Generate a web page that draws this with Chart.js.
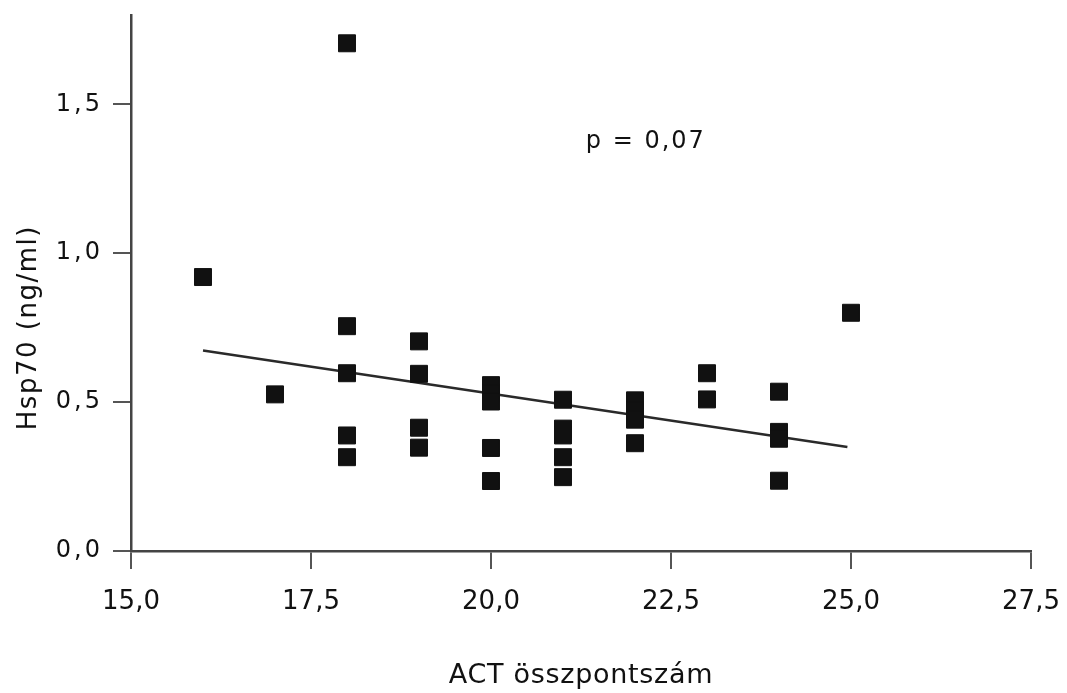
<!DOCTYPE html>
<html>
<head>
<meta charset="utf-8">
<script src="https://cdn.jsdelivr.net/npm/chart.js@4.4.1/dist/chart.umd.min.js"></script>
<style>
  html, body { margin: 0; padding: 0; background: #ffffff; }
  #wrap { width: 1067px; height: 693px; }
</style>
</head>
<body>
<div id="wrap"><canvas id="c" width="1067" height="693"></canvas></div>
<script>
// ---- data ----
const actScore = [16, 17, 18, 18, 18, 18, 18, 19, 19, 19, 19, 20, 20, 20, 20, 20,
                  21, 21, 21, 21, 21, 22, 22, 22, 22, 23, 23, 24, 24, 24, 24, 25];
const hsp70 = [0.92, 0.526, 1.705, 0.755, 0.597, 0.388, 0.315, 0.704, 0.595, 0.414, 0.347,
               0.557, 0.53, 0.502, 0.346, 0.235,
               0.508, 0.411, 0.388, 0.315, 0.248,
               0.506, 0.472, 0.441, 0.362,
               0.597, 0.509,
               0.535, 0.40, 0.377, 0.236,
               0.80];
const trendX = [16, 24.95];
const trendY = [0.673, 0.349];
const xTicks = [15, 17.5, 20, 22.5, 25, 27.5];
const yTicks = [0, 0.5, 1.0, 1.5];
const xTitle = 'ACT összpontszám';
const yTitle = 'Hsp70 (ng/ml)';
const pLabel = 'p = 0,07';
const pLabelPos = [22.15, 1.355];

const FONT = 'DejaVu Sans';
const fmt = v => v.toFixed(1).replace('.', ',');

// wrap a scale's drawing routine with a given canvas letter spacing
function withSpacing(scale, method, ls) {
  const proto = Object.getPrototypeOf(scale);
  scale[method] = function (arg) {
    const c = this.ctx;
    c.save();
    c.letterSpacing = ls;
    proto[method].call(this, arg);
    c.restore();
  };
}

const textPlugin = {
  id: 'texts',
  afterDraw(chart) {
    const ctx = chart.ctx;
    const xs = chart.scales.x, ys = chart.scales.y;
    ctx.save();
    ctx.fillStyle = '#111';
    // annotation
    ctx.letterSpacing = '2px';
    ctx.font = '24px "' + FONT + '"';
    ctx.textAlign = 'center';
    ctx.textBaseline = 'alphabetic';
    ctx.fillText(pLabel, xs.getPixelForValue(pLabelPos[0]), ys.getPixelForValue(pLabelPos[1]));
    // y axis title centred on the tick range
    ctx.letterSpacing = '1.5px';
    ctx.font = '26px "' + FONT + '"';
    const yc = (ys.getPixelForValue(yTicks[0]) + ys.getPixelForValue(yTicks[yTicks.length - 1])) / 2;
    ctx.translate(29, yc);
    ctx.rotate(-Math.PI / 2);
    ctx.textBaseline = 'middle';
    ctx.fillText(yTitle, 0, 0);
    ctx.restore();
  }
};

new Chart(document.getElementById('c'), {
  data: {
    datasets: [
      {
        type: 'scatter',
        data: actScore.map((x, i) => ({ x: x, y: hsp70[i] })),
        pointStyle: 'rect',
        pointRadius: 12,
        pointHoverRadius: 12,
        backgroundColor: '#111',
        borderColor: '#111',
        borderWidth: 1
      },
      {
        type: 'line',
        data: trendX.map((x, i) => ({ x: x, y: trendY[i] })),
        borderColor: '#2a2a2a',
        borderWidth: 2.5,
        pointRadius: 0,
        fill: false
      }
    ]
  },
  options: {
    responsive: false,
    animation: false,
    layout: { padding: { left: 0, top: 15, right: 36, bottom: 0 } },
    plugins: { legend: { display: false }, tooltip: { enabled: false } },
    scales: {
      x: {
        type: 'linear',
        min: 15, max: 27.5,
        afterBuildTicks: s => { s.ticks = xTicks.map(v => ({ value: v })); },
        afterFit: s => {
          s.height = 142;
          s.paddingLeft = 0; s.paddingRight = 0;
          withSpacing(s, 'drawTitle', '0.7px');
        },
        ticks: {
          padding: 18,
          color: '#111',
          font: { family: FONT, size: 26 },
          callback: v => fmt(v),
          maxRotation: 0
        },
        grid: { drawOnChartArea: false, drawTicks: true, tickLength: 18, color: '#555', lineWidth: 2 },
        border: { display: true, color: '#444', width: 2.5 },
        title: {
          display: true,
          text: xTitle,
          color: '#111',
          font: { family: FONT, size: 27 },
          padding: { top: 0, bottom: 1 }
        }
      },
      y: {
        type: 'linear',
        min: 0, max: 1.8,
        afterBuildTicks: s => { s.ticks = yTicks.map(v => ({ value: v })); },
        afterFit: s => {
          s.width = 131;
          s.paddingTop = 0; s.paddingBottom = 0;
          withSpacing(s, 'drawLabels', '3px');
        },
        ticks: {
          padding: 10,
          color: '#111',
          font: { family: FONT, size: 24 },
          callback: v => fmt(v)
        },
        grid: { drawOnChartArea: false, drawTicks: true, tickLength: 18, color: '#555', lineWidth: 2 },
        border: { display: true, color: '#444', width: 2.5 }
      }
    }
  },
  plugins: [textPlugin]
});
</script>
</body>
</html>
